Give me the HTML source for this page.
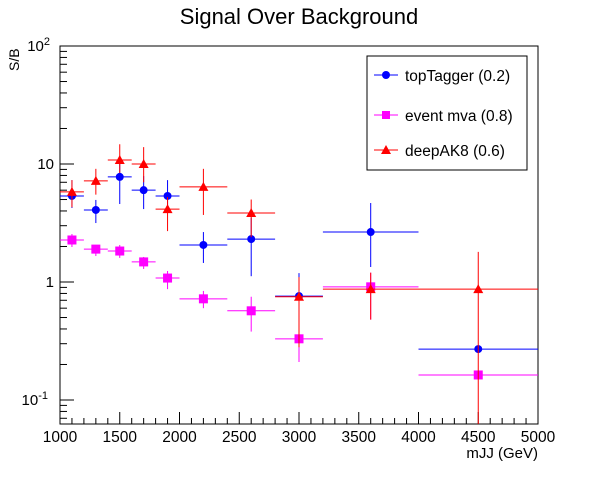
<!DOCTYPE html>
<html><head><meta charset="utf-8"><style>
body{margin:0;background:#fff;width:598px;height:473px;overflow:hidden}
svg text{font-family:"Liberation Sans",sans-serif;fill:#000}
</style></head><body>
<svg id="c" width="598" height="473" xmlns="http://www.w3.org/2000/svg">
<rect width="598" height="473" fill="#fff"/>
<text x="299" y="24" font-size="22" text-anchor="middle">Signal Over Background</text>
<text transform="translate(19,71) rotate(-90)" font-size="14">S/B</text>
<text x="538" y="458" font-size="15" text-anchor="end">mJJ (GeV)</text>
<g id="ax"></g><g id="marks"></g>
<g>
<rect x="367" y="56" width="160" height="114" fill="#fff" stroke="#000"/>
<g><line x1="374" y1="75" x2="398" y2="75" stroke="#00f"/><circle cx="386" cy="75" r="4" fill="#00f"/><text x="405" y="81" font-size="15.5">topTagger (0.2)</text></g>
<g><line x1="374" y1="115" x2="398" y2="115" stroke="#f0f"/><rect x="382" y="111" width="8" height="8" fill="#f0f"/><text x="405" y="121" font-size="15.5">event mva (0.8)</text></g>
<g><line x1="374" y1="150" x2="398" y2="150" stroke="#f00"/><path d="M386 145 L391 154 L381 154 Z" fill="#f00"/><text x="405" y="156" font-size="15.5">deepAK8 (0.6)</text></g>
</g>
</svg>
<script>
const binLo=[1000,1200,1400,1600,1800,2000,2400,2800,3200,4000];
const binHi=[1200,1400,1600,1800,2000,2400,2800,3200,4000,5000];
const topVal=[5.36,4.08,7.77,6.0,5.36,2.06,2.31,0.76,2.65,0.27];
const topUp=[7.3,4.96,11,7.9,7.3,2.65,3.5,1.19,4.67,0.27];
const topDn=[4.24,3.16,4.58,4.15,4.07,1.45,1.12,0.35,1.34,0.27];
const mvaVal=[2.27,1.9,1.83,1.48,1.08,0.72,0.57,0.33,0.91,0.163];
const mvaUp=[2.55,2.06,2.06,1.63,1.24,0.84,0.75,0.5,1.2,0.163];
const mvaDn=[1.98,1.66,1.6,1.29,0.87,0.6,0.38,0.21,0.48,0.163];
const dakVal=[5.8,7.2,10.8,10.0,4.15,6.4,3.84,0.75,0.87,0.87];
const dakUp=[7.3,9.1,14.7,13.9,5.25,9.1,5.0,1.1,1.2,1.8];
const dakDn=[4.3,5.5,8.4,7.0,2.7,3.7,2.4,0.28,0.48,0.01];
const xTicks=[1000,1500,2000,2500,3000,3500,4000,4500,5000];
const yDecades=[0.1,1,10,100];
const L=60,R=538,T=46,B=424;
const X=v=>L+(v-1000)/4000*(R-L);
const Y=v=>Math.min(B,Math.max(T,282-118*Math.log10(v)));
const NS="http://www.w3.org/2000/svg";
function mk(p,tag,a){const e=document.createElementNS(NS,tag);for(const k in a)e.setAttribute(k,a[k]);p.appendChild(e);return e;}
const ax=document.getElementById('ax'),mg=document.getElementById('marks');
const fr=mk(ax,'rect',{x:L,y:T,width:R-L,height:B-T,fill:'none',stroke:'#000'});


for(let v=1000;v<=5000;v+=100){const maj=v%500===0;mk(ax,'line',{x1:X(v),x2:X(v),y1:B,y2:B-(maj?12:6),stroke:'#000'});}
xTicks.forEach(v=>{const t=mk(ax,'text',{x:X(v),y:B+18,'font-size':15.5,'text-anchor':'middle'});t.textContent=v;

});
for(let d=0.01;d<100;d*=10){for(let m=1;m<10;m++){const v=d*m;const y=282-118*Math.log10(v);if(y>B||y<T)continue;mk(ax,'line',{x1:L,x2:L+(m===1?14:7),y1:y,y2:y,stroke:'#000'});}}
const ylab=['10<tspan dy="-6" font-size="11">-1</tspan>','1','10','10<tspan dy="-6" font-size="11">2</tspan>'];
yDecades.forEach((v,i)=>{const t=mk(ax,'text',{x:L-6,y:Y(v)+5,'font-size':15,'text-anchor':'end'});t.innerHTML=ylab[i];
if(i===0)t.setAttribute('x',L-12);if(i===3)t.setAttribute('x',L-10);

});
function series(name,col,val,up,dn,shape){
const g=mk(mg,'g',{});


val.forEach((v,i)=>{const cx=X((binLo[i]+binHi[i])/2),cy=Y(v);
mk(g,'line',{x1:X(binLo[i]),x2:X(binHi[i]),y1:cy,y2:cy,stroke:col});
mk(g,'line',{x1:cx,x2:cx,y1:Y(up[i]),y2:Y(dn[i]),stroke:col});
let m;
if(shape==='c')m=mk(g,'circle',{cx:cx,cy:cy,r:4,fill:col});
else if(shape==='s')m=mk(g,'rect',{x:cx-4.5,y:cy-4.5,width:9,height:9,fill:col});
else m=mk(g,'path',{d:`M${cx} ${cy-5}L${cx+5} ${cy+4}L${cx-5} ${cy+4}Z`,fill:col});

});}
series('event-mva','#f0f',mvaVal,mvaUp,mvaDn,'s');
series('toptagger','#00f',topVal,topUp,topDn,'c');
series('deepak8','#f00',dakVal,dakUp,dakDn,'t');
</script>
</body></html>
